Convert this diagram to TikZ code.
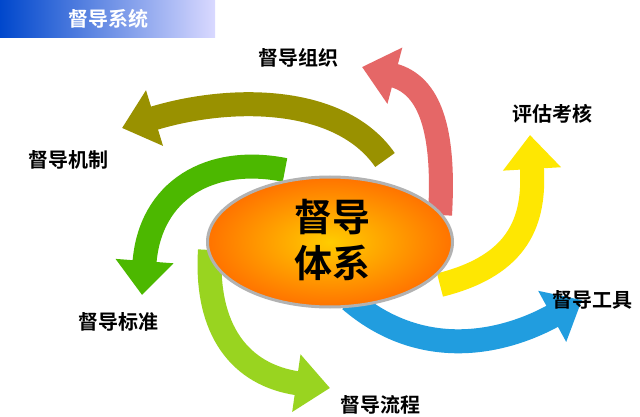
\documentclass[tikz,border=0pt]{standalone}
\usepackage{fontspec}
\newfontfamily\cjk{Noto Sans CJK SC}[BoldFont={* Bold}]
\usetikzlibrary{arrows.meta,shapes.geometric}
\begin{document}
\begin{tikzpicture}[x=1pt,y=-1pt,
  arr/.style={line width=24pt,-{Triangle[width=56pt,length=34pt]}},
  lab/.style={font=\cjk\bfseries\fontsize{20}{22}\selectfont,text=black}]
\useasboundingbox (0,0) rectangle (640,417);
\fill[white] (0,0) rectangle (640,417);
\shade[left color=blue!65!cyan!80!black,right color=blue!15] (0,0) rectangle (215,38);
\node[font=\cjk\bfseries\fontsize{20}{22}\selectfont,text=white] (hdr) at (108,19) {督导系统};
% arrows
\draw[arr,draw=red!55!white!90!black] (440,215) .. controls (445,130) and (430,85) .. (362,67);
\draw[arr,draw=yellow!90!orange] (440,285) .. controls (520,265) and (535,220) .. (530,135);
\draw[arr,draw=cyan!80!blue!90] (350,300) .. controls (420,360) and (500,345) .. (582,300);
\draw[arr,draw=yellow!60!green] (210,250) .. controls (205,330) and (240,375) .. (330,388);
\draw[arr,draw=green!60!black!70!yellow] (285,170) .. controls (210,155) and (150,190) .. (142,295);
\draw[arr,draw=olive!90!yellow] (385,160) .. controls (340,95) and (230,95) .. (122,128);
% center
\node[ellipse, minimum width=245pt, minimum height=130pt, inner color=yellow!60!orange, outer color=orange!90!red,
  draw=gray!60, line width=3pt] (c) at (330,242) {};
\node[font=\cjk\bfseries\fontsize{38}{46}\selectfont, align=center] (ct) at (332,240) {督导\\体系};
\node[lab] (l1) at (298,58) {督导组织};
\node[lab] (l2) at (552,114) {评估考核};
\node[lab] (l3) at (68,160) {督导机制};
\node[lab] (l4) at (118,322) {督导标准};
\node[lab] (l5) at (592,300) {督导工具};
\node[lab] (l6) at (380,405) {督导流程};
\end{tikzpicture}
\end{document}
